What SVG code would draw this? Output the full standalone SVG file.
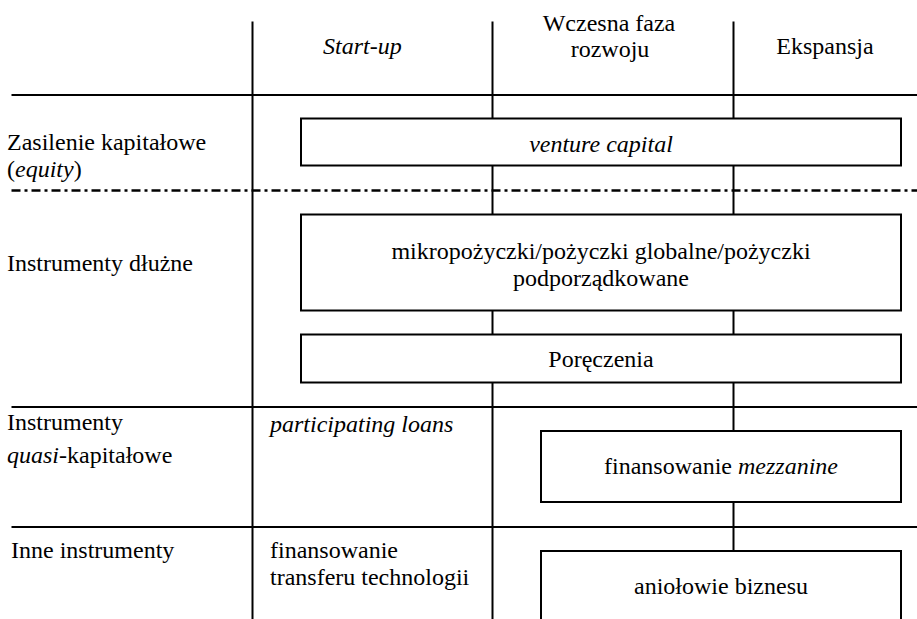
<svg xmlns="http://www.w3.org/2000/svg" width="917" height="619" viewBox="0 0 917 619">
<style>
text{font-family:'Liberation Serif','Times New Roman',serif;font-size:24px;fill:#000}
.i{font-style:italic}
.c{text-anchor:middle}
.ln{stroke:#000;stroke-width:2;fill:none}
.dd{stroke:#000;stroke-width:2.5;fill:none;stroke-dasharray:9 4 3 4}
.box{fill:#fff;stroke:#000;stroke-width:2}
</style>
<rect width="917" height="619" fill="#fff"/>
<g id="connectors">
<line class="ln" x1="252.5" y1="21.5" x2="252.5" y2="619"/>
<line class="ln" x1="492.5" y1="21.5" x2="492.5" y2="619"/>
<line class="ln" x1="733.5" y1="21.5" x2="733.5" y2="619"/>
<line class="ln" x1="11.5" y1="95" x2="917" y2="95"/>
<line class="dd" x1="11.5" y1="190.5" x2="917" y2="190.5"/>
<line class="ln" x1="11.5" y1="407" x2="917" y2="407"/>
<line class="ln" x1="11.5" y1="527" x2="917" y2="527"/>
</g>
<g id="header">
<text class="i" x="323" y="54">Start-up</text>
<text class="c" x="609" y="31">Wczesna faza</text>
<text class="c" x="610" y="57">rozwoju</text>
<text class="c" x="825" y="54">Ekspansja</text>
</g>
<g id="row-labels">
<text x="7" y="150">Zasilenie kapitałowe</text>
<text x="7" y="177">(<tspan class="i">equity</tspan>)</text>
<text x="7" y="271">Instrumenty dłużne</text>
<text x="7" y="430">Instrumenty</text>
<text x="7" y="463"><tspan class="i">quasi</tspan>-kapitałowe</text>
<text x="11" y="558">Inne instrumenty</text>
</g>
<g id="venture-capital">
<rect class="box" x="301" y="118.5" width="600" height="47"/>
<text class="i c" x="601" y="152">venture capital</text>
</g>
<g id="mikropozyczki">
<rect class="box" x="301" y="214.5" width="600" height="96"/>
<text class="c" x="601" y="259">mikropożyczki/pożyczki globalne/pożyczki</text>
<text class="c" x="601" y="286">podporządkowane</text>
</g>
<g id="poreczenia">
<rect class="box" x="301" y="334.5" width="600" height="48"/>
<text class="c" x="601" y="367">Poręczenia</text>
</g>
<g id="participating-loans">
<text class="i" x="270" y="432">participating loans</text>
</g>
<g id="mezzanine">
<rect class="box" x="541" y="431" width="360" height="71"/>
<text class="c" x="721" y="474">finansowanie <tspan class="i">mezzanine</tspan></text>
</g>
<g id="transfer-technologii">
<text x="270" y="558">finansowanie</text>
<text x="270" y="585">transferu technologii</text>
</g>
<g id="aniolowie-biznesu">
<rect class="box" x="541" y="551" width="360" height="80"/>
<text class="c" x="721" y="594">aniołowie biznesu</text>
</g>
</svg>
